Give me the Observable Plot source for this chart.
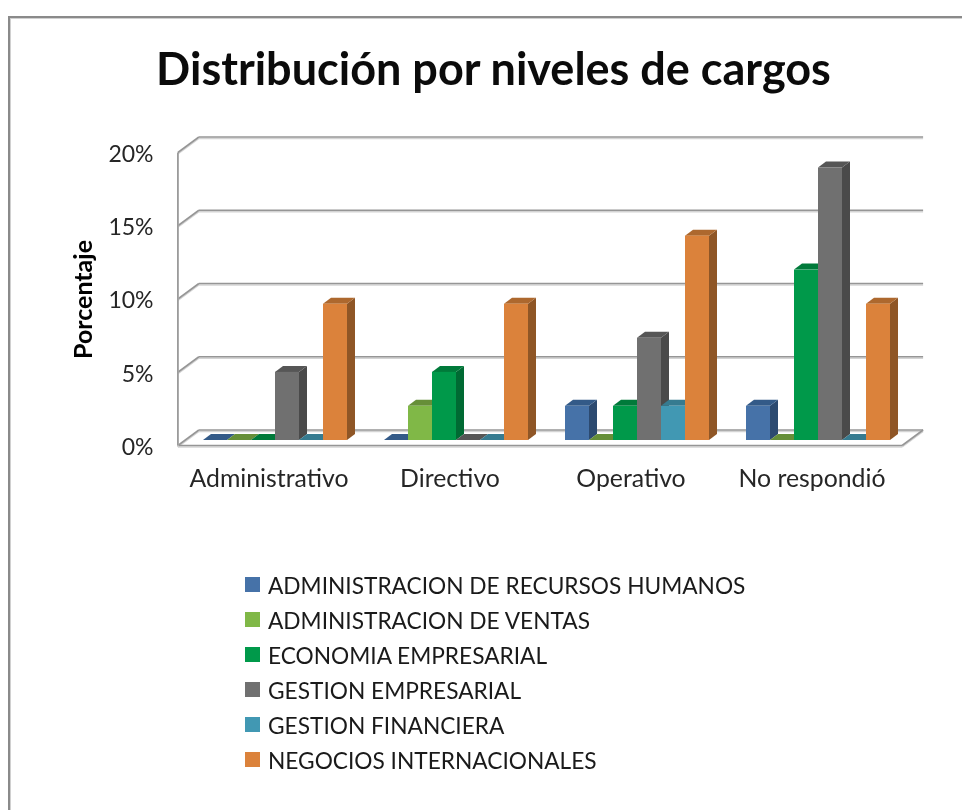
<!DOCTYPE html>
<html><head><meta charset="utf-8">
<script src="https://cdn.jsdelivr.net/npm/d3@7"></script>
<script src="https://cdn.jsdelivr.net/npm/@observablehq/plot@0.6"></script>
<style>
html,body{margin:0;padding:0;background:#fff;width:962px;height:810px;overflow:hidden;font-family:Lato,sans-serif;color:#111}
#frame{position:absolute;left:8px;top:16px;right:-5px;bottom:-5px;border-left:2px solid #8a8a8a;border-top:2px solid #8a8a8a;box-shadow:inset 1px 1px 0 #d0d0d0}
#title{position:absolute;left:0;top:38px;width:987px;text-align:center;font-size:45px;font-weight:700;line-height:60px;color:#0b0b0b;filter:blur(.4px)}
#chart{position:absolute;left:0;top:0;filter:blur(.4px)}
#legend{position:absolute;left:245px;top:568px;filter:blur(.3px)}
.row{height:35px;display:flex;align-items:center;font-size:22.7px;white-space:nowrap;color:#1a1a1a}
.sw{width:15px;height:15px;margin-right:8px;flex:none;position:relative;top:-1px}
</style></head><body>
<div id="frame"></div>
<div id="chart"></div>
<div id="title">Distribución por niveles de cargos</div>
<div id="legend"></div>
<script>
const niveles = ["Administrativo","Directivo","Operativo","No respondió"];
const programas = ["ADMINISTRACION DE RECURSOS HUMANOS","ADMINISTRACION DE VENTAS","ECONOMIA EMPRESARIAL","GESTION EMPRESARIAL","GESTION FINANCIERA","NEGOCIOS INTERNACIONALES"];
const recursosHumanos = [0,0,2.33,2.33];
const ventas = [0,2.33,0,0];
const economia = [0,4.65,2.33,11.63];
const gestionEmpresarial = [4.65,0,6.98,18.6];
const gestionFinanciera = [0,0,2.33,0];
const negocios = [9.3,9.3,13.95,9.3];
const series = [recursosHumanos,ventas,economia,gestionEmpresarial,gestionFinanciera,negocios];
const frente = ["#4672a8","#80b847","#00994a","#707070","#4198b3","#db823b"];
const lado = ["#2c4a70","#557c2e","#006a33","#4a4a4a","#2b6477","#8f5626"];
const tapa = ["#335a88","#668f38","#007a3a","#565656","#367b90","#ad682e"];
const marcasY = [0,5,10,15,20];

const filas = [];
niveles.forEach((n,i)=>programas.forEach((p,j)=>filas.push({nivel:n,programa:p,valor:series[j][i]})));

// 3D look: depth of the chart walls and of each bar, in pixels
const paredX = 21, paredY = -15.5, barraX = 8, barraY = -6, desX = 6, desY = -5.5;

function caras(index, scales, values, dim, ctx, next){
  const g = next(index, scales, values, dim, ctx);
  d3.select(g).selectAll("rect").each(function(i){
    const x=+this.getAttribute("x"), y=+this.getAttribute("y"), w=+this.getAttribute("width"), h=+this.getAttribute("height");
    const j=programas.indexOf(filas[i].programa);
    const ns="http://www.w3.org/2000/svg";
    const side=document.createElementNS(ns,"polygon");
    side.setAttribute("points",[[x+w,y],[x+w+barraX,y+barraY],[x+w+barraX,y+h+barraY],[x+w,y+h]].join(" "));
    side.setAttribute("fill",lado[j]);
    const top=document.createElementNS(ns,"polygon");
    top.setAttribute("points",[[x,y],[x+barraX,y+barraY],[x+w+barraX,y+barraY],[x+w,y]].join(" "));
    top.setAttribute("fill",tapa[j]);
    this.parentNode.insertBefore(side,this);
    this.parentNode.insertBefore(top,this);
  });
  return g;
}
function paredes(index, scales, values, dim){
  const s = d3.create("svg:g");
  // the frame given here is the facets' extent: widen it by the outer padding of fx
  const exterior = (dim.width-dim.marginRight-dim.marginLeft)/38;
  const L = dim.marginLeft-exterior, R = dim.width-dim.marginRight+exterior;
  const y = scales.y;
  const linea=(x1,y1,x2,y2)=>{
    s.append("line").attr("x1",x1).attr("y1",y1+1.5).attr("x2",x2).attr("y2",y2+1.5).attr("stroke","#d4d4d4").attr("stroke-width",1.5);
    s.append("line").attr("x1",x1).attr("y1",y1).attr("x2",x2).attr("y2",y2).attr("stroke","#969696").attr("stroke-width",1.6);
  };
  for(const t of marcasY){
    linea(L+paredX,y(t)+paredY,R+paredX,y(t)+paredY);
    linea(L,y(t),L+paredX,y(t)+paredY);
  }
  linea(L,y(0),R,y(0));
  linea(R,y(0),R+paredX,y(0)+paredY);
  linea(L,y(0),L,y(20));
  return s.node();
}

const plot = Plot.plot({
  width:962, height:520,
  marginLeft:177, marginRight:60, marginTop:152.5, marginBottom:74.5,
  style:{fontFamily:"Lato, sans-serif", overflow:"visible", background:"transparent"},
  fx:{domain:niveles, paddingInner:0.2, paddingOuter:0.1, label:null},
  x:{domain:programas, padding:0, axis:null},
  y:{domain:[0,20], label:null},
  color:{domain:programas, range:frente},
  marks:[
    Plot.frame({facet:"super", render:paredes}),
    Plot.axisY({ticks:marcasY, tickFormat:d=>d+"%", tickSize:0, tickPadding:43, dy:1.5, label:null, fontSize:23, fill:"#262626"}),
    Plot.axisFx({anchor:"bottom", tickSize:0, tickPadding:23, label:null, fontSize:24.8, fill:"#262626"}),
    Plot.text(["Porcentaje"],{frameAnchor:"left", rotate:-90, textAnchor:"middle", lineAnchor:"middle", dx:-113, fontSize:25, fontWeight:"bold", fill:"#000", facet:"super"}),
    Plot.barY(filas,{fx:"nivel", x:"programa", y:"valor", fill:"programa", inset:0, dx:desX, dy:desY, render:caras})
  ]
});
document.getElementById("chart").append(plot);

const leyenda = document.getElementById("legend");
programas.forEach((p,j)=>{
  const r=document.createElement("div"); r.className="row";
  const s=document.createElement("span"); s.className="sw"; s.style.background=frente[j];
  const t=document.createElement("span"); t.textContent=p;
  r.append(s,t); leyenda.append(r);
});
</script></body></html>
